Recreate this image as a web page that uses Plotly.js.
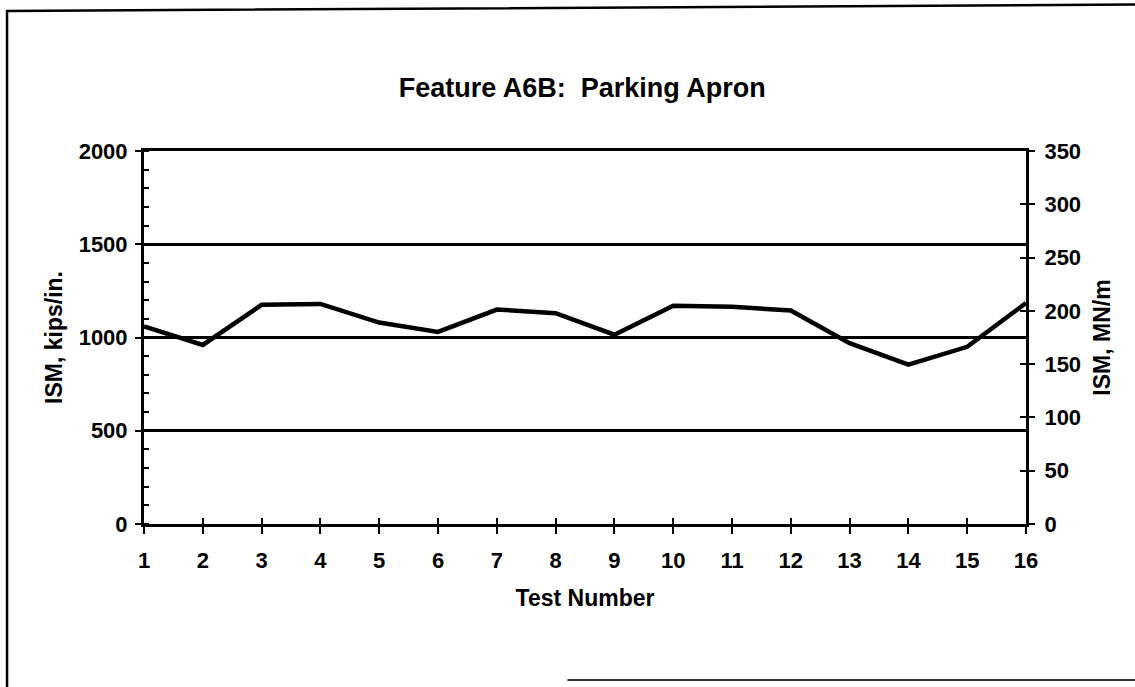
<!DOCTYPE html>
<html>
<head>
<meta charset="utf-8">
<script src="https://cdn.plot.ly/plotly-3.0.1.min.js"></script>
<style>
  html, body { margin: 0; padding: 0; background: #fff; }
  #chart { width: 1135px; height: 687px; }
</style>
</head>
<body>
<div id="chart"></div>
<script>
// ---- data ----
const testNumbers = [1, 2, 3, 4, 5, 6, 7, 8, 9, 10, 11, 12, 13, 14, 15, 16];
const ismKipsPerIn = [1060, 960, 1175, 1180, 1080, 1030, 1150, 1130, 1015, 1170, 1165, 1145, 970, 855, 950, 1185];
const leftTicks = [0, 500, 1000, 1500, 2000];
const rightTicks = [0, 50, 100, 150, 200, 250, 300, 350];

const chartTitle = 'Feature A6B:  Parking Apron';
const xTitle = 'Test Number';
const yLeftTitle = 'ISM, kips/in.';
const yRightTitle = 'ISM, MN/m';

const FONT = 'Arial, "Liberation Sans", Helvetica, sans-serif';
const tickFont = { family: FONT, size: 22, color: '#000', weight: 700 };
const titleFont = { family: FONT, size: 23, color: '#000', weight: 700 };

const traces = [
  {
    x: testNumbers, y: ismKipsPerIn, type: 'scatter', mode: 'lines',
    line: { color: '#000', width: 4.5 }, xaxis: 'x', yaxis: 'y',
    hoverinfo: 'x+y', showlegend: false
  },
  // invisible traces to anchor overlay axes (crossing ticks)
  { x: [1, 16], y: [0, 0], type: 'scatter', mode: 'lines', line: { width: 0 }, xaxis: 'x2', yaxis: 'y', hoverinfo: 'skip', showlegend: false },
  { x: [1, 16], y: [0, 0], type: 'scatter', mode: 'lines', line: { width: 0 }, xaxis: 'x', yaxis: 'y2', hoverinfo: 'skip', showlegend: false },
  { x: [1, 16], y: [0, 0], type: 'scatter', mode: 'lines', line: { width: 0 }, xaxis: 'x', yaxis: 'y3', hoverinfo: 'skip', showlegend: false },
  { x: [1, 16], y: [0, 0], type: 'scatter', mode: 'lines', line: { width: 0 }, xaxis: 'x', yaxis: 'y4', hoverinfo: 'skip', showlegend: false }
];

const layout = {
  width: 1135, height: 687,
  paper_bgcolor: '#fff', plot_bgcolor: '#fff',
  margin: { l: 144, r: 109, t: 151, b: 163 },
  showlegend: false,
  title: {
    text: chartTitle, font: { family: FONT, size: 27, color: '#000', weight: 700 },
    x: 0.513, xanchor: 'center', y: 0.872, yanchor: 'middle', xref: 'container', yref: 'container'
  },
  xaxis: {
    range: [1, 16], tickvals: testNumbers, ticktext: testNumbers.map(String),
    ticks: 'outside', ticklen: 7, tickwidth: 2, tickcolor: '#000',
    showline: true, linewidth: 3, linecolor: '#000', mirror: true,
    showgrid: false, zeroline: false, tickfont: tickFont, ticklabelstandoff: 8,
    title: { text: xTitle, font: titleFont, standoff: 18 }
  },
  xaxis2: {
    overlaying: 'x', anchor: 'y', side: 'bottom', range: [1, 16], tickvals: testNumbers,
    ticks: 'inside', ticklen: 6, tickwidth: 2, tickcolor: '#000',
    showticklabels: false, showline: false, showgrid: false, zeroline: false
  },
  yaxis: {
    range: [0, 2000], tickvals: leftTicks, ticktext: leftTicks.map(String),
    ticks: 'outside', ticklen: 6, tickwidth: 2, tickcolor: '#000',
    minor: { dtick: 100, ticks: 'inside', ticklen: 5, tickwidth: 2, tickcolor: '#000', showgrid: false },
    showline: true, linewidth: 3, linecolor: '#000',
    showgrid: true, gridcolor: '#000', gridwidth: 3, zeroline: false,
    tickfont: tickFont, ticklabelstandoff: 3,
    title: { text: yLeftTitle, font: titleFont, standoff: 10 }
  },
  yaxis3: {
    overlaying: 'y', anchor: 'x', side: 'left', range: [0, 2000], tickvals: leftTicks,
    ticks: 'inside', ticklen: 4, tickwidth: 2, tickcolor: '#000',
    showticklabels: false, showline: false, showgrid: false, zeroline: false
  },
  yaxis2: {
    overlaying: 'y', anchor: 'x', side: 'right', range: [0, 350], tickvals: rightTicks, ticktext: rightTicks.map(String),
    ticks: 'outside', ticklen: 6, tickwidth: 2, tickcolor: '#000',
    showline: true, linewidth: 3, linecolor: '#000',
    showgrid: false, zeroline: false, tickfont: tickFont, ticklabelstandoff: 5,
    title: { text: yRightTitle, font: titleFont, standoff: 14 }
  },
  yaxis4: {
    overlaying: 'y', anchor: 'x', side: 'right', range: [0, 350], tickvals: rightTicks,
    ticks: 'inside', ticklen: 6, tickwidth: 2, tickcolor: '#000',
    showticklabels: false, showline: false, showgrid: false, zeroline: false
  },
  shapes: [
    // scanned page frame (left, top edges) and faint bottom edge
    { type: 'path', xref: 'paper', yref: 'paper',
      path: 'M -0.1553,-0.45 L -0.1553,1.3753 L 1.15,1.393',
      line: { color: '#000', width: 2.5 } },
    { type: 'line', xref: 'paper', yref: 'paper', x0: 0.48, x1: 1.15, y0: -0.418, y1: -0.418,
      line: { color: '#333', width: 2 } }
  ]
};

Plotly.newPlot('chart', traces, layout, { displayModeBar: false, staticPlot: true });
</script>
</body>
</html>
